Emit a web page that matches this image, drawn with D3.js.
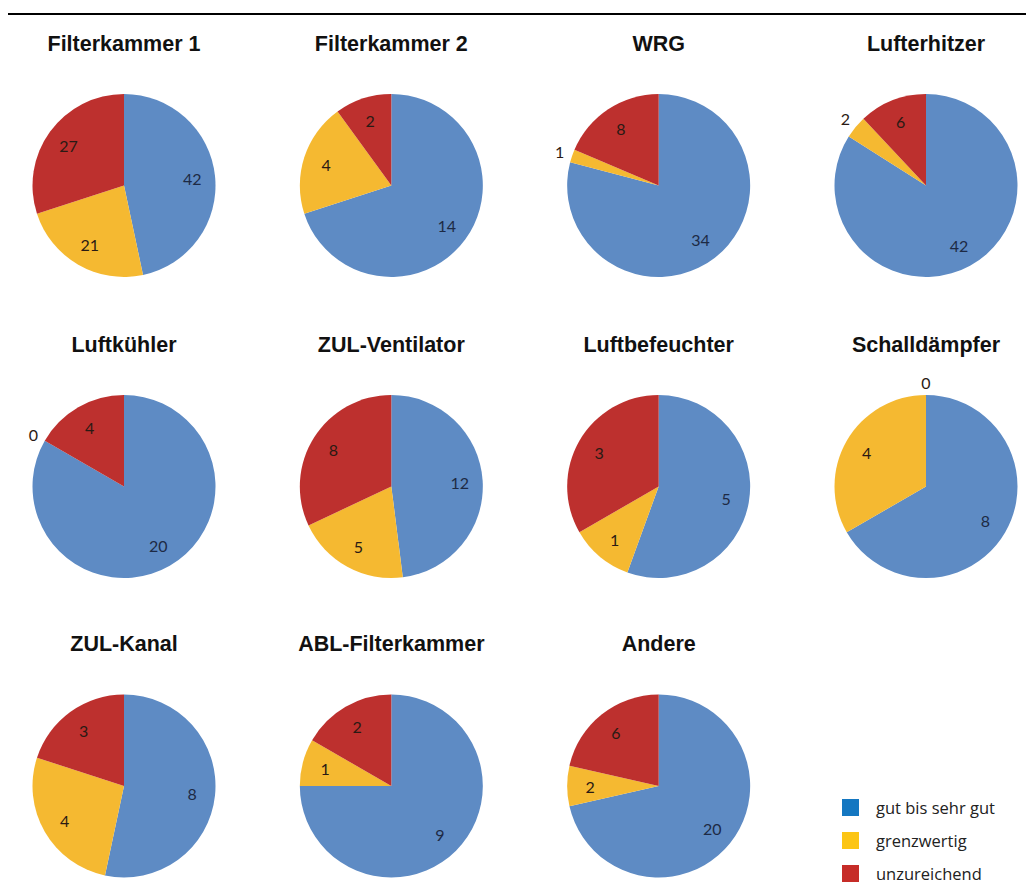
<!DOCTYPE html>
<html><head><meta charset="utf-8">
<script src="https://cdn.jsdelivr.net/npm/d3@7"></script>
<style>
html,body{margin:0;padding:0;background:#fff;}
svg{display:block;}
</style></head>
<body>
<svg id="chart" width="1026" height="886"></svg>
<script>
const titles = ["Filterkammer 1","Filterkammer 2","WRG","Lufterhitzer","Luftkühler","ZUL-Ventilator","Luftbefeuchter","Schalldämpfer","ZUL-Kanal","ABL-Filterkammer","Andere"];
const categories = ["gut bis sehr gut","grenzwertig","unzureichend"];
const gut   = [42,14,34,42,20,12,5,8,8,9,20];
const grenz = [21,4,1,2,0,5,1,4,4,1,2];
const unzu  = [27,2,8,6,4,8,3,0,3,2,6];

const pieColors = ["#5e8bc4","#f5b931","#bd302e"];
const legendColors = ["#1477c1","#fcc514","#c62c28"];

const svg = d3.select("#chart");
const W = 1026, H = 886;
svg.append("rect").attr("width",W).attr("height",H).attr("fill","#fff");
svg.append("line").attr("x1",8).attr("x2",W).attr("y1",14).attr("y2",14)
  .attr("stroke","#000").attr("stroke-width",2);

const xCol = d3.scaleLinear().domain([0,3]).range([124,926]);
const yRowFix = [185.5,486.5,786];
const R = 91.5;
const color = d3.scaleOrdinal().domain(categories).range(pieColors);

const pie = d3.pie().sort(null).value(d=>d.v);
const arc = d3.arc().innerRadius(0).outerRadius(R);

titles.forEach((t,i)=>{
  const col = i%4, row = Math.floor(i/4);
  const cx = xCol(col), cy = yRowFix[row];
  const g = svg.append("g").attr("transform",`translate(${cx},${cy})`);
  svg.append("text").attr("x",cx).attr("y",cy-135)
    .attr("text-anchor","middle")
    .attr("font-family","'Liberation Sans', Arial, sans-serif")
    .attr("font-weight","bold").attr("font-size",21.5).attr("fill","#111")
    .text(t);
  const data = categories.map((c,k)=>({c, v:[gut,grenz,unzu][k][i]}));
  const total = d3.sum(data,d=>d.v);
  const arcs = pie(data);
  g.selectAll("path").data(arcs).join("path")
    .attr("d",arc).attr("fill",d=>color(d.data.c));
  g.selectAll("text").data(arcs).join("text")
    .attr("transform",d=>{
      const a = (d.startAngle+d.endAngle)/2;
      const rr = (d.data.v/total < 0.05) ? R+13 : R*0.75;
      return `translate(${Math.sin(a)*rr},${-Math.cos(a)*rr})`;
    })
    .attr("text-anchor","middle").attr("dominant-baseline","central")
    .attr("font-family","Lato, 'Open Sans', sans-serif").attr("font-size",16)
    .attr("fill",d=>d.data.c===categories[0] ? "#1d2a44" : "#2a1a14")
    .text(d=>d.data.v);
});

const legend = svg.append("g").attr("transform","translate(842,799)");
categories.forEach((c,k)=>{
  legend.append("rect").attr("x",0).attr("y",k*33).attr("width",17).attr("height",17)
    .attr("fill",legendColors[k]);
  legend.append("text").attr("x",34).attr("y",k*33+8.5)
    .attr("dominant-baseline","central")
    .attr("font-family","'Open Sans', sans-serif").attr("font-size",16.5).attr("fill","#222")
    .text(c);
});
</script>
</body></html>
